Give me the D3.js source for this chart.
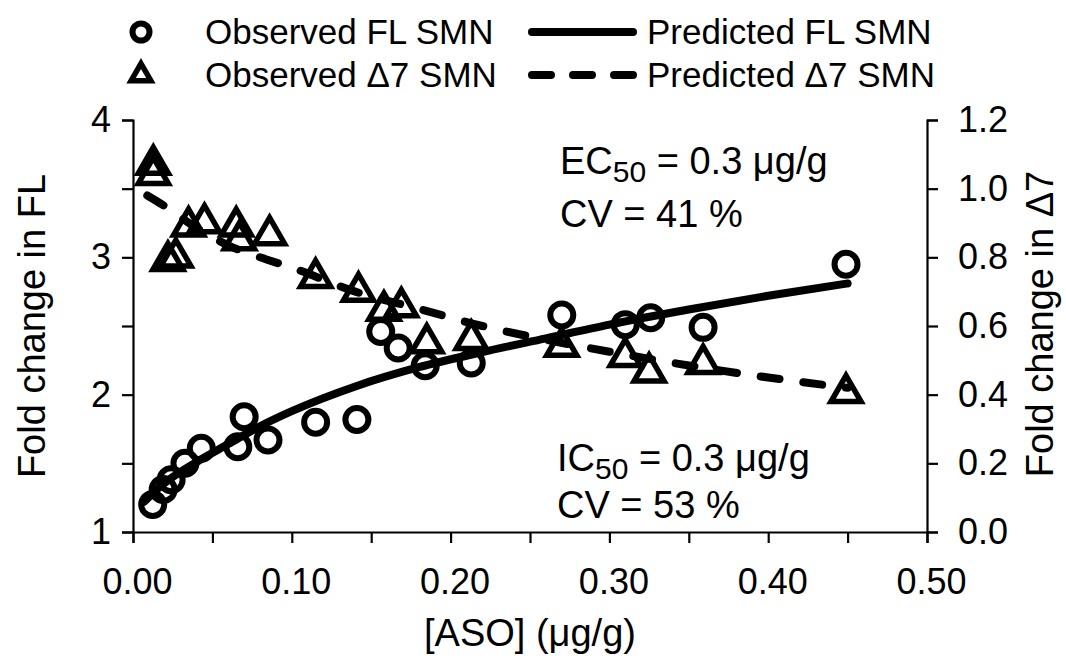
<!DOCTYPE html>
<html>
<head>
<meta charset="utf-8">
<script src="https://cdn.jsdelivr.net/npm/d3@7"></script>
<style>
  body { margin: 0; background: #fff; }
  svg text { font-family: "Liberation Sans", Arial, sans-serif; fill: #000; }
</style>
</head>
<body>
<div id="chart"></div>
<script>
// observed full-length SMN (left axis)
let flConc = [0.0124, 0.019, 0.024, 0.0327, 0.043, 0.066, 0.070, 0.085, 0.115, 0.141,
              0.156, 0.167, 0.184, 0.213, 0.270, 0.310, 0.326, 0.359, 0.449]
let flFold = [1.20, 1.31, 1.38, 1.50, 1.61, 1.62, 1.84, 1.67, 1.80, 1.82,
              2.46, 2.34, 2.21, 2.23, 2.58, 2.51, 2.56, 2.49, 2.95]

// observed delta7 SMN (right axis)
let d7Conc = [0.0128, 0.0128, 0.022, 0.027, 0.035, 0.045, 0.065, 0.067, 0.086, 0.115,
              0.142, 0.158, 0.169, 0.185, 0.213, 0.270, 0.310, 0.325, 0.359, 0.449]
let d7Fold = [1.07, 1.04, 0.79, 0.80, 0.89, 0.90, 0.89, 0.85, 0.865, 0.74,
              0.70, 0.645, 0.655, 0.55, 0.56, 0.54, 0.51, 0.465, 0.49, 0.405]

// predicted curves
let predFLConc = [0.007, 0.015, 0.025, 0.04, 0.06, 0.08, 0.10, 0.14, 0.18, 0.22, 0.26, 0.30, 0.35, 0.40, 0.45]
let predFL     = [1.22, 1.31, 1.40, 1.51, 1.64, 1.77, 1.88, 2.06, 2.20, 2.31, 2.41, 2.51, 2.62, 2.72, 2.81]
let predD7Conc = [0.009, 0.023, 0.04, 0.06, 0.08, 0.10, 0.14, 0.18, 0.22, 0.26, 0.30, 0.35, 0.40, 0.45]
let predD7     = [0.98, 0.94, 0.885, 0.835, 0.80, 0.77, 0.70, 0.65, 0.60, 0.56, 0.525, 0.485, 0.45, 0.42]

let xTicks = [0, 0.05, 0.10, 0.15, 0.20, 0.25, 0.30, 0.35, 0.40, 0.45, 0.50]
let yLeftTicks = [1, 1.5, 2, 2.5, 3, 3.5, 4]
let yRightTicks = [0, 0.2, 0.4, 0.6, 0.8, 1.0, 1.2]

let width = 1066
let height = 662
let margin = { top: 120, right: 139, bottom: 130, left: 133 }

let x = d3.scaleLinear()
    .domain([0, 0.5])
    .range([margin.left, width - margin.right])

let yL = d3.scaleLinear()
    .domain([1, 4])
    .range([height - margin.bottom, margin.top])

let yR = d3.scaleLinear()
    .domain([0, 1.2])
    .range([height - margin.bottom, margin.top])

let svg = d3.select('#chart')
    .append('svg')
    .attr('width', width)
    .attr('height', height)

let styleAxis = (g) => {
    g.selectAll('path').attr('stroke', '#000').attr('stroke-width', 2.2)
    g.selectAll('line').attr('stroke', '#000').attr('stroke-width', 2.2)
    g.selectAll('text').attr('font-size', '36px').attr('fill', '#000')
}

let xAxis = d3.axisBottom(x)
    .tickValues(xTicks)
    .tickSizeOuter(0)
    .tickSize(11)
    .tickPadding(25)
    .tickFormat(d => (Math.round(d * 100) % 10 === 0) ? d3.format('.2f')(d) : '')

svg.append('g')
    .attr('transform', `translate(0,${height - margin.bottom})`)
    .call(xAxis)
    .call(styleAxis)
    .selectAll('text')
    .attr('dx', 4)

let yLeftAxis = d3.axisLeft(yL)
    .tickValues(yLeftTicks)
    .tickSizeOuter(0)
    .tickSize(11)
    .tickPadding(11)
    .tickFormat(d => Number.isInteger(d) ? d : '')

svg.append('g')
    .attr('transform', `translate(${margin.left},0)`)
    .call(yLeftAxis)
    .call(styleAxis)

let yRightAxis = d3.axisRight(yR)
    .tickValues(yRightTicks)
    .tickSizeOuter(0)
    .tickSize(11)
    .tickPadding(20)
    .tickFormat(d3.format('.1f'))

svg.append('g')
    .attr('transform', `translate(${width - margin.right},0)`)
    .call(yRightAxis)
    .call(styleAxis)

// axis titles
svg.append('text')
    .attr('transform', `translate(45,${(margin.top + height - margin.bottom) / 2}) rotate(-90)`)
    .attr('text-anchor', 'middle')
    .attr('font-size', '38px')
    .text('Fold change in FL')

svg.append('text')
    .attr('transform', `translate(1053,${(margin.top + height - margin.bottom) / 2 - 2}) rotate(-90)`)
    .attr('text-anchor', 'middle')
    .attr('font-size', '38px')
    .text('Fold change in Δ7')

svg.append('text')
    .attr('x', (margin.left + width - margin.right) / 2)
    .attr('y', 646)
    .attr('text-anchor', 'middle')
    .attr('font-size', '38px')
    .text('[ASO] (μg/g)')

// predicted lines
let lineFL = d3.line()
    .x((d, i) => x(predFLConc[i]))
    .y(d => yL(d))
    .curve(d3.curveMonotoneX)

let lineD7 = d3.line()
    .x((d, i) => x(predD7Conc[i]))
    .y(d => yR(d))
    .curve(d3.curveMonotoneX)

svg.append('path')
    .datum(predFL)
    .attr('d', lineFL)
    .attr('fill', 'none')
    .attr('stroke', '#000')
    .attr('stroke-width', 8)
    .attr('stroke-linecap', 'round')

svg.append('path')
    .datum(predD7)
    .attr('d', lineD7)
    .attr('fill', 'none')
    .attr('stroke', '#000')
    .attr('stroke-width', 8)
    .attr('stroke-linecap', 'round')
    .attr('stroke-dasharray', '19,24')

// observed points
let fl = flConc.map((c, i) => ({ c: c, v: flFold[i] }))
let d7 = d7Conc.map((c, i) => ({ c: c, v: d7Fold[i] }))

svg.selectAll('.fl')
    .data(fl)
    .join('circle')
    .attr('class', 'fl')
    .attr('cx', d => x(d.c))
    .attr('cy', d => yL(d.v))
    .attr('r', 11.5)
    .attr('fill', 'none')
    .attr('stroke', '#000')
    .attr('stroke-width', 6)

let tri = d3.symbol().type(d3.symbolTriangle).size(390)

svg.selectAll('.d7')
    .data(d7)
    .join('path')
    .attr('class', 'd7')
    .attr('d', tri)
    .attr('transform', d => `translate(${x(d.c)},${yR(d.v)})`)
    .attr('fill', 'none')
    .attr('stroke', '#000')
    .attr('stroke-width', 5.5)

// annotations
let ec = svg.append('text')
    .attr('x', 560)
    .attr('y', 174)
    .attr('font-size', '38px')
ec.append('tspan').text('EC')
ec.append('tspan').attr('font-size', '30px').attr('dy', 8).text('50')
ec.append('tspan').attr('dy', -8).text(' = 0.3 μg/g')

svg.append('text')
    .attr('x', 560)
    .attr('y', 227)
    .attr('font-size', '38px')
    .text('CV = 41 %')

let ic = svg.append('text')
    .attr('x', 557)
    .attr('y', 471)
    .attr('font-size', '38px')
ic.append('tspan').text('IC')
ic.append('tspan').attr('font-size', '30px').attr('dy', 8).text('50')
ic.append('tspan').attr('dy', -8).text(' = 0.3 μg/g')

svg.append('text')
    .attr('x', 557)
    .attr('y', 518)
    .attr('font-size', '38px')
    .text('CV = 53 %')

// legend
let legendItems = [
  { label: 'Observed FL SMN', kind: 'circle', col: 0, row: 0 },
  { label: 'Observed Δ7 SMN', kind: 'triangle', col: 0, row: 1 },
  { label: 'Predicted FL SMN', kind: 'solid', col: 1, row: 0 },
  { label: 'Predicted Δ7 SMN', kind: 'dashed', col: 1, row: 1 }
]

let legend = svg.selectAll('.legend')
    .data(legendItems)
    .join('g')
    .attr('class', 'legend')
    .attr('transform', d => `translate(${d.col === 0 ? 141 : 532},${32 + d.row * 43})`)

legend.filter(d => d.kind === 'circle')
    .append('circle')
    .attr('r', 8.5)
    .attr('fill', 'none')
    .attr('stroke', '#000')
    .attr('stroke-width', 6)

legend.filter(d => d.kind === 'triangle')
    .append('path')
    .attr('d', d3.symbol().type(d3.symbolTriangle).size(170))
    .attr('fill', 'none')
    .attr('stroke', '#000')
    .attr('stroke-width', 5.5)

legend.filter(d => d.kind === 'solid' || d.kind === 'dashed')
    .append('line')
    .attr('x1', 0)
    .attr('x2', 101)
    .attr('stroke', '#000')
    .attr('stroke-width', 8)
    .attr('stroke-linecap', 'round')
    .attr('stroke-dasharray', d => d.kind === 'dashed' ? '19,22' : null)

legend.append('text')
    .attr('x', d => d.col === 0 ? 64 : 115)
    .attr('y', 12)
    .attr('font-size', '35px')
    .text(d => d.label)
</script>
</body>
</html>
